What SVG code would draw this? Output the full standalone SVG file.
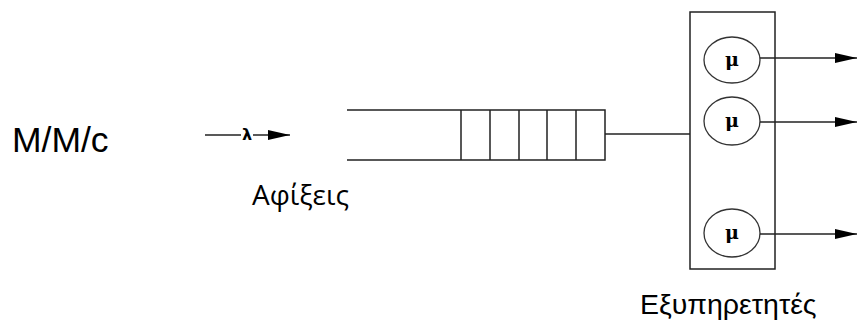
<svg xmlns="http://www.w3.org/2000/svg" width="858" height="325" viewBox="0 0 858 325">
<defs>
<marker id="ah2" markerWidth="22" markerHeight="10" refX="22" refY="5" orient="auto" markerUnits="userSpaceOnUse">
<path d="M0,0 L22,5 L0,10 Z" fill="#000"/>
</marker>
<style>
.ln{stroke:#222;stroke-width:1.5;fill:none}
.srv{stroke:#333;stroke-width:1.3;fill:#fff}
.mu{font-family:"DejaVu Serif","Liberation Serif",serif;font-weight:bold;font-size:19px;fill:#000;text-anchor:middle}
</style>
</defs>
<g id="title"><text x="12" y="152" font-family="Liberation Sans, Arial, sans-serif" font-size="35.5" fill="#000">M/M/c</text></g>
<g id="arrivals">
<text x="252" y="205" font-family="Open Sans, Noto Sans, sans-serif" font-size="28" fill="#000">Αφίξεις</text>
</g>
<g id="queue">
<path class="ln" d="M347,110 H605 V160 H347"/>
<path class="ln" d="M461,110 V160 M490,110 V160 M519,110 V160 M547,110 V160 M576,110 V160"/>
</g>
<g id="servers">
<rect x="690" y="12" width="85" height="257" class="ln" stroke-width="1.3"/>
<g id="s1"><ellipse cx="732" cy="60" rx="28" ry="23" class="srv"/><text x="732" y="66" class="mu">μ</text></g>
<g id="s2"><ellipse cx="732" cy="121" rx="28" ry="24" class="srv"/><text x="732" y="127" class="mu">μ</text></g>
<g id="s3"><ellipse cx="732" cy="233" rx="28" ry="24" class="srv"/><text x="732" y="239" class="mu">μ</text></g>
<text x="640" y="314" font-family="Liberation Sans, Arial, sans-serif" font-size="28.5" fill="#000">Εξυπηρετητές</text>
</g>
<g id="connectors">
<line x1="205" y1="135" x2="241" y2="135" class="ln"/>
<text x="247" y="140" font-family="DejaVu Sans, sans-serif" font-weight="bold" font-size="16" text-anchor="middle">λ</text>
<line x1="253" y1="135" x2="290" y2="135" class="ln" marker-end="url(#ah2)"/>
<line x1="605" y1="134" x2="690" y2="134" class="ln"/>
<line x1="760" y1="58" x2="857" y2="58" class="ln" marker-end="url(#ah2)"/>
<line x1="760" y1="122" x2="857" y2="122" class="ln" marker-end="url(#ah2)"/>
<line x1="760" y1="234" x2="857" y2="234" class="ln" marker-end="url(#ah2)"/>
</g>
</svg>
